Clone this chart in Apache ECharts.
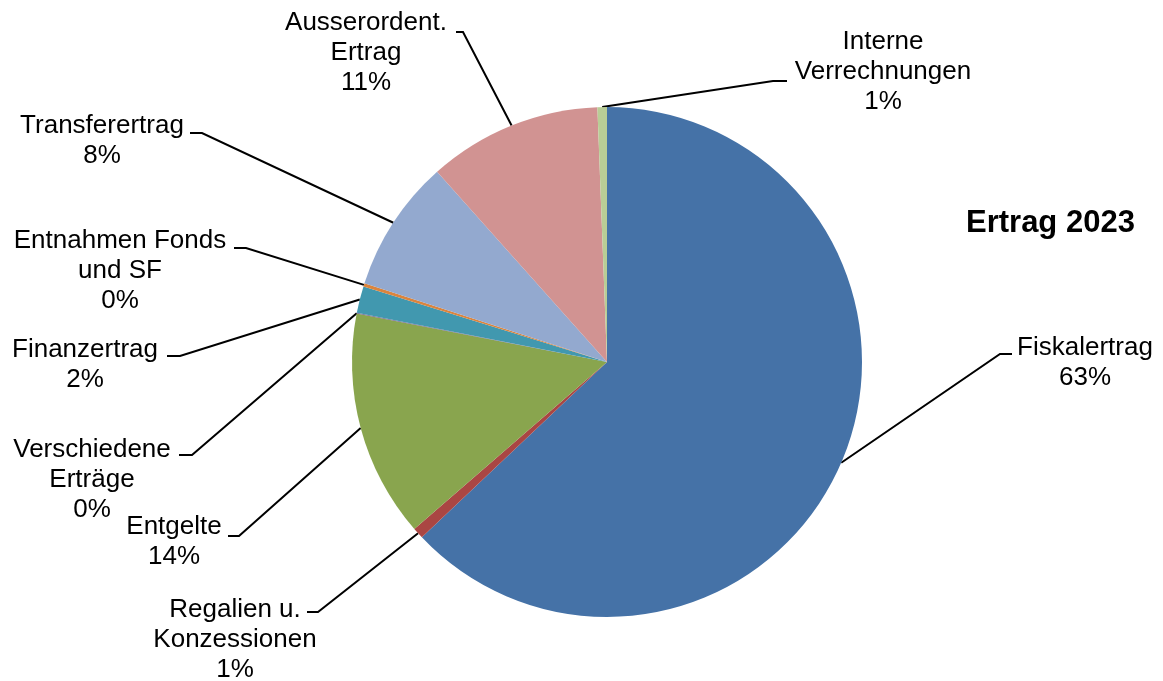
<!DOCTYPE html>
<html>
<head>
<meta charset="utf-8">
<title>Ertrag 2023</title>
<script src="https://cdn.jsdelivr.net/npm/echarts@6/dist/echarts.min.js"></script>
<style>
  html, body { margin: 0; padding: 0; background: #fff; }
  #main { width: 1163px; height: 681px; }
</style>
</head>
<body>
<div id="main"></div>
<script>
// Daten (Anteile in %, aus der Grafik geschätzt)
const categories = [
  'Fiskalertrag',
  'Regalien u.\nKonzessionen',
  'Entgelte',
  'Verschiedene\nErträge',
  'Finanzertrag',
  'Entnahmen Fonds\nund SF',
  'Transferertrag',
  'Ausserordent.\nErtrag',
  'Interne\nVerrechnungen'
]
const values = [62.9, 0.7, 14.4, 0.05, 1.7, 0.2, 8.4, 11.0, 0.6]
const colors = ['#4572A7', '#AA4643', '#89A54E', '#71588F', '#4198AF', '#DB843D', '#93A9CF', '#D19392', '#B9CD96']

// Beschriftungen: Mittelpunkt des Textblocks und Knick der Führungslinie
const labelCenter = [[1085, 363], [235, 640], [174, 542], [92, 480], [85, 365], [120, 271], [102, 141], [366, 53], [883, 72]]
const leaderOuter = [[1000, 354], [318, 612], [239, 536], [192, 455], [180, 356], [246, 248], [202, 133], [463, 32], [773, 81]]
const leaderInner = [[1012, 354], [307, 612], [228, 536], [179, 455], [167, 356], [234, 248], [190, 133], [456, 32], [787, 81]]

const total = values.reduce((a, b) => a + b, 0)
const fontFamily = '"Liberation Sans", Arial, sans-serif'

const chart = echarts.init(document.getElementById('main'), null, { renderer: 'canvas' })

const option = {
  backgroundColor: '#ffffff',
  animation: false,
  title: {
    text: 'Ertrag 2023',
    left: 961,
    top: 203,
    textStyle: {
      fontFamily: fontFamily,
      fontSize: 31,
      fontWeight: 'bold',
      color: '#000'
    }
  },
  series: [
    {
      type: 'pie',
      center: [607, 362],
      radius: [0, 255],
      startAngle: 90,
      clockwise: true,
      avoidLabelOverlap: false,
      silent: true,
      data: categories.map((name, i) => ({
        name: name,
        value: values[i],
        itemStyle: { color: colors[i], borderWidth: 0 }
      })),
      itemStyle: { borderWidth: 0 },
      label: {
        show: true,
        position: 'outside',
        formatter: p => p.name + '\n' + Math.round(p.value / total * 100) + '%',
        fontFamily: fontFamily,
        fontSize: 26,
        lineHeight: 30,
        color: '#000',
        align: 'center'
      },
      labelLine: {
        show: true,
        length: 10,
        length2: 10,
        lineStyle: { color: '#000', width: 2 }
      },
      labelLayout: params => {
        const i = params.dataIndex
        const pts = params.labelLinePoints
        const edge = pts ? pts[0] : leaderOuter[i]
        return {
          x: labelCenter[i][0],
          y: labelCenter[i][1],
          align: 'center',
          verticalAlign: 'middle',
          labelLinePoints: [edge, leaderOuter[i], leaderInner[i]]
        }
      }
    }
  ]
}

chart.setOption(option)
</script>
</body>
</html>
